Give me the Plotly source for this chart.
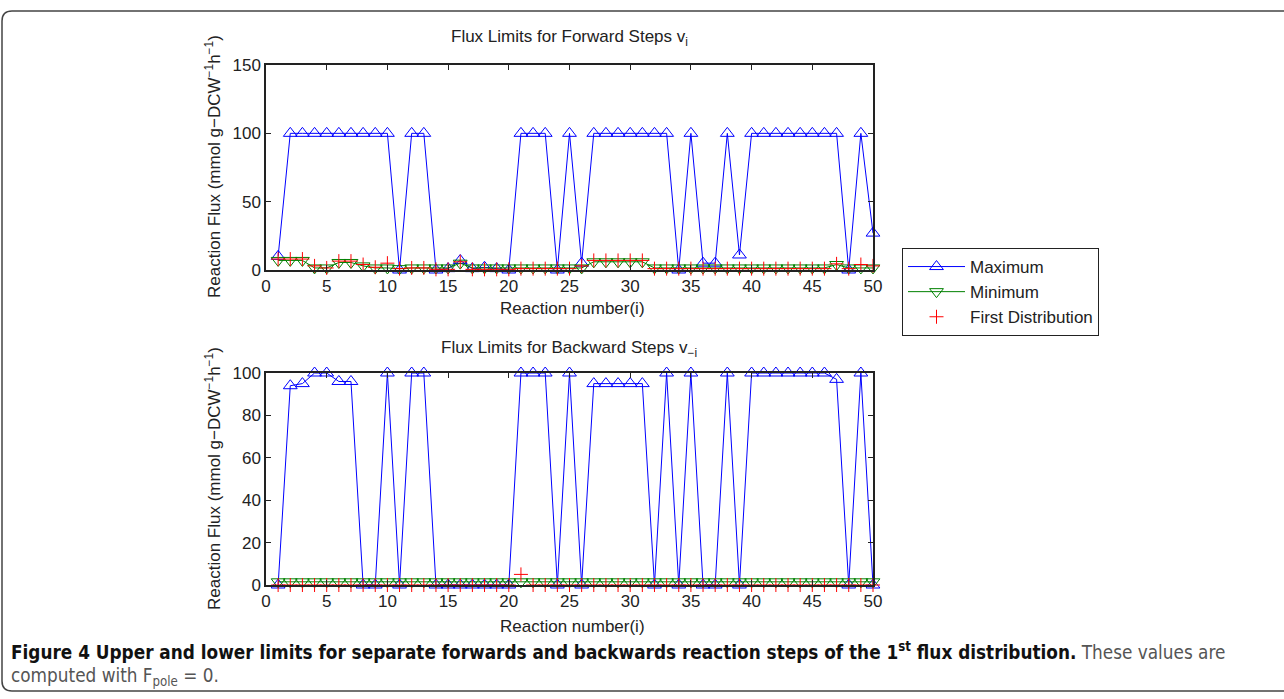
import plotly.graph_objects as go

W, H = 1284, 699

reaction = list(range(1, 51))

# Forward steps v_i
fwd_max = [10, 100, 100, 100, 100, 100, 100, 100, 100, 100,
           0, 100, 100, 0, 1, 7, 1, 2, 1, 0,
           100, 100, 100, 0, 100, 5, 100, 100, 100, 100,
           100, 100, 100, 0, 100, 5, 5, 100, 11, 100,
           100, 100, 100, 100, 100, 100, 100, 0, 100, 27]
fwd_min = [7, 7, 7, 1.5, 1.5, 5.5, 5.5, 3, 1.5, 1.5,
           1, 1.5, 1.5, 1.5, 1.5, 5, 1.5, 1.5, 1.5, 1.5,
           1.5, 1.5, 1.5, 1.5, 1.5, 1.5, 6, 6, 6, 6,
           6, 1.5, 1.5, 1.5, 1.5, 1.5, 1.5, 1.5, 1.5, 1.5,
           1.5, 1.5, 1.5, 1.5, 1.5, 1.5, 4, 1.5, 1.5, 1.5]
fwd_first = [8, 8, 8, 3, 1.5, 6.5, 6.5, 4, 2, 5,
             1, 1.5, 1.5, 0.5, 0.5, 6, 0.5, 0.5, 0.5, 0.5,
             1, 1, 1, 1, 1, 3, 7, 7, 7, 7,
             7, 1, 1, 1, 1, 1, 1, 1, 1, 1,
             1, 1, 1, 1, 1, 1, 4.5, 1, 4, 3]

# Backward steps v_-i
bwd_max = [0, 94, 95, 100, 100, 96, 96, 0, 0, 100,
           0, 100, 100, 0, 0, 0, 0, 0, 0, 0,
           100, 100, 100, 0, 100, 0, 95, 95, 95, 95,
           95, 0, 100, 0, 100, 0, 0, 100, 0, 100,
           100, 100, 100, 100, 100, 100, 97, 0, 100, 0]
bwd_min = [1.5] * 50
bwd_first = [0] * 20 + [5] + [0] * 29

x_ticks = list(range(0, 51, 5))
fwd_ticks = [0, 50, 100, 150]
bwd_ticks = [0, 20, 40, 60, 80, 100]

FONT = "Liberation Sans, Arial, sans-serif"
INK = "#222222"
BLUE, GREEN, RED = "#0000ff", "#008000", "#ff0000"


def px(x):
    return x / W


def py(y):
    return 1 - y / H


fig = go.Figure()


def add_panel(xa, ya, ymax, ymin, yfirst, show_legend):
    fig.add_trace(go.Scatter(
        x=reaction, y=ymax, mode="lines+markers", name="Maximum",
        xaxis=xa, yaxis=ya, cliponaxis=False, showlegend=show_legend,
        line=dict(color=BLUE, width=1),
        marker=dict(symbol="triangle-up-open", size=12, color=BLUE,
                    line=dict(color=BLUE, width=1))))
    fig.add_trace(go.Scatter(
        x=reaction, y=ymin, mode="lines+markers", name="Minimum",
        xaxis=xa, yaxis=ya, cliponaxis=False, showlegend=show_legend,
        line=dict(color=GREEN, width=1),
        marker=dict(symbol="triangle-down-open", size=12, color=GREEN,
                    line=dict(color=GREEN, width=1))))
    fig.add_trace(go.Scatter(
        x=reaction, y=yfirst, mode="markers", name="First Distribution",
        xaxis=xa, yaxis=ya, cliponaxis=False, showlegend=show_legend,
        marker=dict(symbol="cross-thin-open", size=10, color=RED,
                    line=dict(color=RED, width=1))))


add_panel("x", "y", fwd_max, fwd_min, fwd_first, True)
add_panel("x2", "y2", bwd_max, bwd_min, bwd_first, False)

axis_common = dict(
    showline=True, linecolor=INK, linewidth=1.5, mirror="ticks",
    ticks="inside", ticklen=5, tickwidth=1, tickcolor=INK,
    showgrid=False, zeroline=False, automargin=False,
    tickfont=dict(family=FONT, size=17, color=INK),
)

x_dom = [px(266), px(873)]
fig.update_layout(
    width=W, height=H, autosize=False,
    margin=dict(l=0, r=0, t=0, b=0, pad=0, autoexpand=False),
    paper_bgcolor="white", plot_bgcolor="white",
    font=dict(family=FONT, size=17, color=INK),
    xaxis=dict(domain=x_dom, anchor="y", range=[0, 50], tickvals=x_ticks, **axis_common),
    yaxis=dict(domain=[py(270), py(65)], anchor="x", range=[0, 150], tickvals=fwd_ticks, **axis_common),
    xaxis2=dict(domain=x_dom, anchor="y2", range=[0, 50], tickvals=x_ticks, **axis_common),
    yaxis2=dict(domain=[py(585), py(373)], anchor="x2", range=[0, 100], tickvals=bwd_ticks, **axis_common),
    legend=dict(
        x=px(902), y=py(248), xanchor="left", yanchor="top",
        bordercolor=INK, borderwidth=1, bgcolor="white",
        font=dict(family=FONT, size=17, color=INK),
        itemwidth=57, tracegroupgap=0,
    ),
)

ylab = "Reaction Flux (mmol g\u2212DCW<sup>\u22121</sup>h<sup>\u22121</sup>)"
annots = [
    dict(text="Flux Limits for Forward Steps v<sub>i</sub>", x=px(569), y=py(38)),
    dict(text="Flux Limits for Backward Steps v<sub>\u2212i</sub>", x=px(569), y=py(349)),
    dict(text="Reaction number(i)", x=px(572), y=py(308)),
    dict(text="Reaction number(i)", x=px(572), y=py(626)),
    dict(text=ylab, x=px(213), y=py(167), textangle=-90),
    dict(text=ylab, x=px(213), y=py(479), textangle=-90),
]
for a in annots:
    fig.add_annotation(xref="paper", yref="paper", showarrow=False,
                       xanchor="center", yanchor="middle",
                       font=dict(family=FONT, size=17, color=INK), **a)

CAP_FONT = "Liberation Sans Narrow, DejaVu Sans Condensed, sans-serif"
fig.add_annotation(
    xref="paper", yref="paper", x=px(9), y=py(651), xanchor="left", yanchor="middle",
    showarrow=False, align="left",
    font=dict(family=CAP_FONT, size=18.8, color="#111111"),
    text=("<b>Figure 4 Upper and lower limits for separate forwards and backwards "
          "reaction steps of the 1<sup>st</sup> flux distribution.</b>"
          "<span style='color:#555555'> These values are</span>"))
fig.add_annotation(
    xref="paper", yref="paper", x=px(9), y=py(677), xanchor="left", yanchor="middle",
    showarrow=False, align="left",
    font=dict(family=CAP_FONT, size=18.8, color="#555555"),
    text="computed with F<sub>pole</sub> = 0.")

# Rounded frame around the figure panel
x0, y0, x1, y1, r = 2, 11, 1300, 691, 10
path = (f"M {px(x0 + r)},{py(y0)} L {px(x1)},{py(y0)} "
        f"M {px(x0 + r)},{py(y0)} Q {px(x0)},{py(y0)} {px(x0)},{py(y0 + r)} "
        f"L {px(x0)},{py(y1 - r)} Q {px(x0)},{py(y1)} {px(x0 + r)},{py(y1)} "
        f"L {px(x1)},{py(y1)}")
fig.add_shape(type="path", xref="paper", yref="paper", path=path,
              line=dict(color="#444444", width=1.5))

fig.write_html(
    "out.html",
    post_script="document.body.style.margin='0px';document.body.style.overflow='hidden';",
)
